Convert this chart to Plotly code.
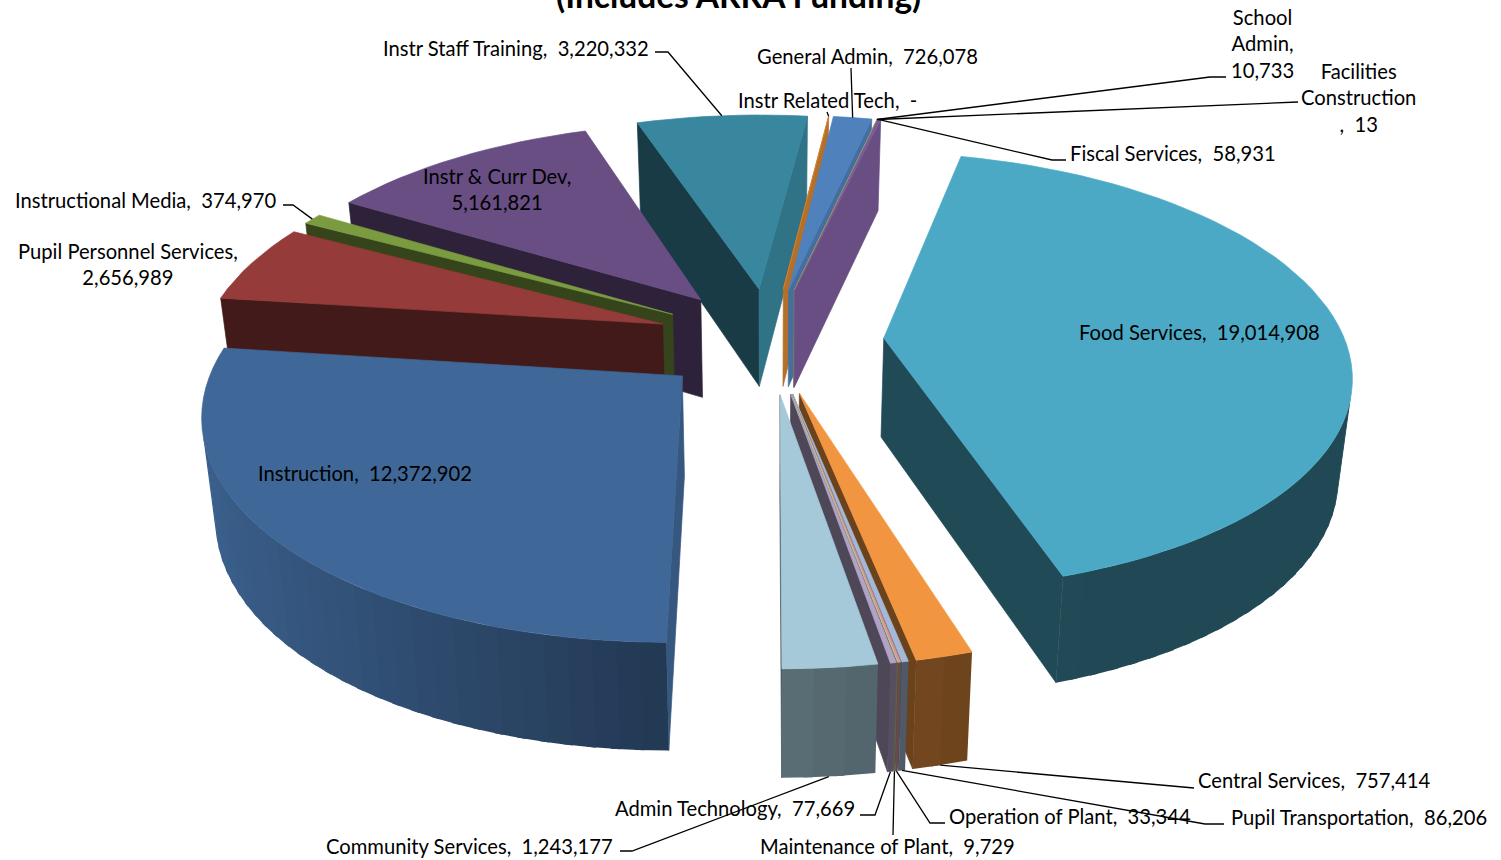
import numpy as np
import plotly.graph_objects as go

# slices, clockwise from the 6 o'clock position
names = ["Instruction", "Pupil Personnel Services", "Instructional Media", "Instr & Curr Dev",
         "Instr Staff Training", "Instr Related Tech", "General Admin", "School Admin",
         "Facilities Construction", "Fiscal Services", "Food Services", "Central Services",
         "Pupil Transportation", "Operation of Plant", "Maintenance of Plant",
         "Admin Technology", "Community Services"]
values = [12372902, 2656989, 374970, 5161821, 3220332, 0, 726078, 10733, 13, 58931,
          19014908, 757414, 86206, 33344, 9729, 77669, 1243177]
top_colors = ["#3F6797", "#953B39", "#7B9B40", "#684E83", "#38879F", "#D4832F", "#4F81BD",
              "#C0504D", "#9BBB59", "#7A5C9A", "#4BA9C5", "#F29540", "#A5B8D8", "#D99694",
              "#C3D69B", "#B2A2C7", "#A5C9D9"]
title = "(Includes ARRA Funding)"

# label text layout: line breaks, centre position
breaks = {"Pupil Personnel Services": "Pupil Personnel Services,<br>2,656,989",
          "Instr & Curr Dev": "Instr & Curr Dev,<br>5,161,821",
          "School Admin": "School<br>Admin,<br>10,733",
          "Facilities Construction": "Facilities<br>Construction<br>,  13"}
label_pos = {"Instruction": (365, 473), "Pupil Personnel Services": (128, 264), "Instructional Media": (145, 200),
             "Instr & Curr Dev": (497, 189), "Instr Staff Training": (516, 48), "Instr Related Tech": (827, 100),
             "General Admin": (867, 56), "School Admin": (1262, 43), "Facilities Construction": (1358, 97),
             "Fiscal Services": (1173, 153), "Food Services": (1199, 332), "Central Services": (1314, 780),
             "Pupil Transportation": (1359, 817), "Operation of Plant": (1070, 816), "Maintenance of Plant": (887, 846),
             "Admin Technology": (735, 808), "Community Services": (469, 846)}
# leader line: elbow points from the label, the slice end is worked out from the geometry
leaders = {"Instr Staff Training": [(655, 52), (668, 52)], "Instructional Media": [(283, 205), (293, 205)],
           "Instr Related Tech": [(827, 112)], "General Admin": [(851, 68)],
           "School Admin": [(1226, 77), (1210, 77)],
           "Facilities Construction": [(1298, 102)], "Fiscal Services": [(1066, 160), (1052, 160)],
           "Central Services": [(1194, 788)], "Pupil Transportation": [(1224, 824), (1205, 824)],
           "Operation of Plant": [(945, 823), (930, 823)], "Maintenance of Plant": [(893, 835)],
           "Admin Technology": [(860, 815), (875, 815)], "Community Services": [(620, 851), (632, 851)]}

# camera
CX, CY = 770, 340
EXPLODE, R = 114, 461
TILT, PERSP, DEPTH, TAPER = 0.465, 0.000326, 99, 0.024


def project(px, py, z):
    s = 1 / (1 + PERSP * py)
    return CX + px * s * (1 - TAPER * z), CY - py * TILT * s + z * DEPTH / (1 + 0.00016 * py)


def shade(color, k):
    r, g, b = (int(color[i:i + 2], 16) for i in (1, 3, 5))
    return f"rgb({r * k:.0f},{g * k:.0f},{b * k:.0f})"


def rim_shade(deg):
    d = deg % 360
    if d < 180:
        return 0.43 + 0.12 * np.clip((d - 160) / 20, 0, 1)
    return 0.55 - 0.4 * np.sin(np.radians(d))


def polygon(fig, pts, color, width=0.7):
    xs = [p[0] for p in pts] + [pts[0][0]]
    ys = [p[1] for p in pts] + [pts[0][1]]
    fig.add_trace(go.Scatter(x=xs, y=ys, mode="lines", fill="toself", fillcolor=color,
                             line=dict(color=color, width=width), hoverinfo="skip", showlegend=False))


def wall(fig, p, q, color, width=0.7):
    # p -> q runs clockwise round the slice seen from above
    quad = [project(*p, 0), project(*q, 0), project(*q, 1), project(*p, 1)]
    area = sum(quad[i][0] * quad[(i + 1) % 4][1] - quad[(i + 1) % 4][0] * quad[i][1] for i in range(4))
    if area < 0:
        polygon(fig, quad, color, width)


fig = go.Figure()

shares = np.array(values) / sum(values) * 360
starts = 180 + np.concatenate([[0], np.cumsum(shares)[:-1]])
ends = starts + shares
mids = (starts + ends) / 2
anchors = {}

for i in sorted(range(len(values)), key=lambda n: -np.cos(np.radians(mids[n]))):
    mid = np.radians(mids[i])
    ax, ay = EXPLODE * np.sin(mid), EXPLODE * np.cos(mid)

    def rim(deg):
        a = np.radians(deg)
        return ax + R * np.sin(a), ay + R * np.cos(a)

    steps = max(1, int(shares[i] / 2.5))
    angles = np.linspace(starts[i], ends[i], steps + 1)
    base = top_colors[i]

    # radial faces: east facing ones catch the light
    start_lit = np.sin(np.radians(starts[i] - 90)) > 0.3
    end_lit = np.sin(np.radians(ends[i] + 90)) > 0.3
    wall(fig, (ax, ay), rim(starts[i]), shade(base, 0.85 if start_lit else 0.44))
    wall(fig, rim(ends[i]), (ax, ay), shade(base, 0.85 if end_lit else 0.44))

    # rim bands overlap a little so no seams show
    for a, b in zip(angles[:-1], angles[1:]):
        wall(fig, rim(a), rim(min(b + 1, ends[i])), shade(base, rim_shade((a + b) / 2)), 0)

    outline = [project(ax, ay, 0)] + [project(*rim(a), 0) for a in angles]
    polygon(fig, outline, base)

    z = 1 if np.cos(mid) < -0.3 else 0
    anchors[names[i]] = project(*rim(mids[i]), z)

for name, elbow in leaders.items():
    pts = elbow + [anchors[name]]
    fig.add_trace(go.Scatter(x=[p[0] for p in pts], y=[p[1] for p in pts], mode="lines",
                             line=dict(color="black", width=1.3), hoverinfo="skip", showlegend=False))

for name, value in zip(names, values):
    amount = f"{value:,}" if value else "-"
    text = breaks.get(name, f"{name},  {amount}")
    x, y = label_pos[name]
    fig.add_annotation(x=x, y=y, text=text, showarrow=False, xanchor="center", yanchor="middle",
                       font=dict(family="Lato", size=20.2, color="black"))

# the title runs off the top of the picture, as it does in the source
fig.add_annotation(x=738, y=0, yshift=5, text=title, showarrow=False, xanchor="center", yanchor="middle",
                   font=dict(family="Lato", size=33.5, color="black", weight="bold"))

fig.update_layout(
    width=1501, height=860, margin=dict(l=0, r=0, t=0, b=0),
    paper_bgcolor="white", plot_bgcolor="white", showlegend=False,
    xaxis=dict(range=[0, 1501], visible=False),
    yaxis=dict(range=[860, 0], visible=False),
)

fig.write_html("out.html", config={"displayModeBar": False},
               post_script="document.body.style.margin='0';document.body.style.overflow='hidden';")
